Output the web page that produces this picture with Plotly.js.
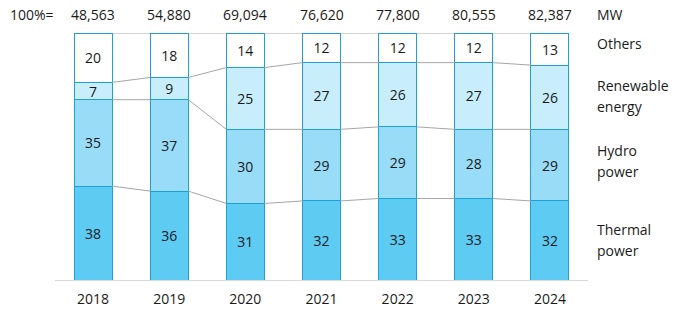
<!DOCTYPE html>
<html>
<head>
<meta charset="utf-8">
<script src="https://cdn.plot.ly/plotly-3.0.1.min.js"></script>
<style>
  html, body { margin: 0; padding: 0; background: #fff; }
  #chart { width: 681px; height: 318px; }
</style>
</head>
<body>
<div id="chart"></div>
<script>
// Installed capacity mix by year, share of total (%)
const years = ['2018', '2019', '2020', '2021', '2022', '2023', '2024'];
const totalsMW = ['48,563', '54,880', '69,094', '76,620', '77,800', '80,555', '82,387'];
const thermal = [38, 36, 31, 32, 33, 33, 32];
const hydro = [35, 37, 30, 29, 29, 28, 29];
const renewable = [7, 9, 25, 27, 26, 27, 26];
const others = [20, 18, 14, 12, 12, 12, 13];

const seriesLabels = [['Others'], ['Renewable', 'energy'], ['Hydro', 'power'], ['Thermal', 'power']];

const FONT = 'Open Sans, Liberation Sans, sans-serif';
const TEXT = '#1a1a1a';
const EDGE = '#1d9fd7';

// Plot-area geometry in pixels
const W = 681, H = 318;
const M = { l: 55, r: 93, t: 33, b: 38 };
const plotW = W - M.l - M.r, plotH = H - M.t - M.b;
const px = x => (x - M.l) / plotW;          // pixel -> paper x
const py = y => (H - M.b - y) / plotH;      // pixel -> paper y

const BAR_W = 0.5;

function barTrace(name, vals, color) {
  return {
    type: 'bar', name: name, x: years, y: vals,
    width: BAR_W,
    marker: { color: color, line: { color: EDGE, width: 1 } },
    text: vals.map(String), textposition: 'inside', insidetextanchor: 'middle',
    textangle: 0, constraintext: 'none',
    textfont: { family: FONT, size: 14, color: TEXT },
    hoverinfo: 'skip'
  };
}

// Cumulative boundaries between stacked segments
const cum1 = thermal.map((v, i) => v);
const cum2 = thermal.map((v, i) => v + hydro[i]);
const cum3 = thermal.map((v, i) => v + hydro[i] + renewable[i]);
const cum4 = thermal.map((v, i) => v + hydro[i] + renewable[i] + others[i]);

// Thin connectors joining the same boundary on neighbouring bars
function connector(levels) {
  const xs = [], ys = [];
  for (let i = 0; i < levels.length - 1; i++) {
    xs.push(i + BAR_W / 2, i + 1 - BAR_W / 2, null);
    ys.push(levels[i], levels[i + 1], null);
  }
  return {
    type: 'scatter', mode: 'lines', x: xs, y: ys, xaxis: 'x2',
    line: { color: '#a6a6a6', width: 1 }, hoverinfo: 'skip', showlegend: false
  };
}

const data = [
  barTrace('Thermal power', thermal, '#5ecbf3'),
  barTrace('Hydro power', hydro, '#99dcf7'),
  barTrace('Renewable energy', renewable, '#c9eefb'),
  barTrace('Others', others, '#ffffff'),
  connector(cum1), connector(cum2), connector(cum3), connector(cum4)
];

const annotations = [];
// Totals row above each bar
years.forEach((yr, i) => {
  annotations.push({
    xref: 'x2', yref: 'paper', x: i, y: py(14), text: totalsMW[i],
    showarrow: false, xanchor: 'center', yanchor: 'middle',
    font: { family: FONT, size: 14, color: TEXT }
  });
});
annotations.push({
  xref: 'paper', yref: 'paper', x: px(56), y: py(14), text: '100%=',
  showarrow: false, xanchor: 'right', yanchor: 'middle',
  font: { family: FONT, size: 14, color: TEXT }
});
annotations.push({
  xref: 'paper', yref: 'paper', x: px(595), y: py(14), text: 'MW',
  showarrow: false, xanchor: 'left', yanchor: 'middle',
  font: { family: FONT, size: 14, color: TEXT }
});
// Series labels on the right
const labelCenters = [44, 96, 161, 240];
seriesLabels.forEach((lines, k) => {
  const step = 21;
  const start = labelCenters[k] - (lines.length - 1) * step / 2;
  lines.forEach((ln, j) => {
    annotations.push({
      xref: 'paper', yref: 'paper', x: px(595), y: py(start + j * step), text: ln,
      showarrow: false, xanchor: 'left', yanchor: 'middle',
      font: { family: FONT, size: 14, color: TEXT }
    });
  });
});

const layout = {
  width: W, height: H,
  margin: M,
  paper_bgcolor: '#ffffff', plot_bgcolor: '#ffffff',
  barmode: 'stack', showlegend: false,
  font: { family: FONT, size: 14, color: TEXT },
  xaxis: {
    type: 'category', range: [-0.5, 6.5], showgrid: false, zeroline: false,
    showline: true, linecolor: '#d9d9d9', linewidth: 1,
    ticks: '', ticklabelstandoff: 6,
    tickfont: { family: FONT, size: 14, color: TEXT }, fixedrange: true
  },
  xaxis2: {
    overlaying: 'x', range: [-0.5, 6.5], visible: false, fixedrange: true
  },
  yaxis: {
    range: [0, 100], visible: false, showgrid: false, zeroline: false, fixedrange: true
  },
  annotations: annotations
};

Plotly.newPlot('chart', data, layout, { staticPlot: true, displayModeBar: false });
</script>
</body>
</html>
